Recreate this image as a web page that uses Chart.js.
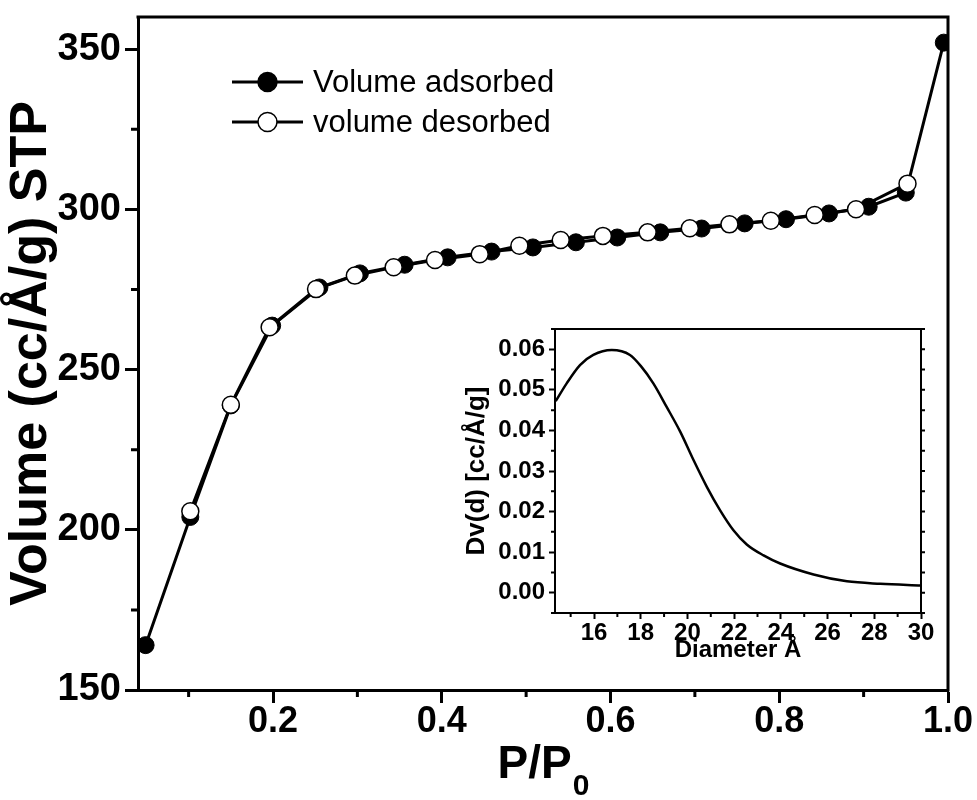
<!DOCTYPE html>
<html>
<head>
<meta charset="utf-8">
<script src="https://cdn.jsdelivr.net/npm/chart.js@4.4.1/dist/chart.umd.min.js"></script>
<style>
  html, body { margin: 0; padding: 0; background: #fff; }
  #wrap { position: relative; width: 977px; height: 800px; }
  #main { position: absolute; left: 0; top: 0; }
  #inset { position: absolute; left: 440px; top: 300px; }
</style>
</head>
<body>
<div id="wrap">
  <canvas id="main" width="977" height="800"></canvas>
  <canvas id="inset" width="520" height="380"></canvas>
</div>
<script>
// Isoterma: adsorción (círculos llenos)
const pressureAds = [0.049, 0.102, 0.150, 0.199, 0.255, 0.303, 0.356, 0.407, 0.459, 0.508,
                     0.559, 0.608, 0.659, 0.708, 0.759, 0.808, 0.859, 0.906, 0.950, 0.995];
const volumeAds = [164.0, 204.0, 238.8, 263.7, 275.6, 280.0, 282.7, 285.0, 286.8, 288.1,
                   289.7, 291.2, 292.8, 294.0, 295.6, 296.9, 298.7, 300.8, 305.2, 352.0];

// Isoterma: desorción (círculos vacíos)
const pressureDes = [0.952, 0.891, 0.842, 0.790, 0.741, 0.694, 0.644, 0.591, 0.541,
                     0.492, 0.445, 0.392, 0.343, 0.297, 0.251, 0.196, 0.150, 0.102];
const volumeDes = [308.0, 300.0, 298.2, 296.4, 295.3, 294.1, 292.8, 291.7, 290.4,
                   288.6, 286.0, 284.2, 281.9, 279.3, 275.1, 263.2, 239.0, 205.8];

// Distribución de poros (inserto)
const diameter = [14.36, 14.83, 15.40, 15.97, 16.76, 17.54, 18.00, 18.54, 19.11, 19.69, 20.26,
                  20.83, 21.40, 21.97, 22.54, 23.26, 23.97, 25.40, 26.83, 28.26, 30.00];
const dvd = [0.0472, 0.0516, 0.0561, 0.0586, 0.0598, 0.0586, 0.0559, 0.0516, 0.0458, 0.0397, 0.0327,
             0.0261, 0.0203, 0.0154, 0.0119, 0.0092, 0.0072, 0.0045, 0.0028, 0.0022, 0.0018];

// Marcas de los ejes
const pressureTicks = [0.2, 0.4, 0.6, 0.8, 1.0];
const pressureMinor = [0.1, 0.3, 0.5, 0.7, 0.9];
const volumeTicks = [150, 200, 250, 300, 350];
const volumeMinor = [175, 225, 275, 325];
const diameterTicks = [16, 18, 20, 22, 24, 26, 28, 30];
const diameterMinor = [15, 17, 19, 21, 23, 25, 27, 29];
const dvTicks = [0.00, 0.01, 0.02, 0.03, 0.04, 0.05, 0.06];
const dvMinor = [-0.005, 0.005, 0.015, 0.025, 0.035, 0.045, 0.055, 0.065];

const FONT = 'Liberation Sans, Arial, sans-serif';

const toPoints = (xs, ys) => xs.map((x, i) => ({ x: x, y: ys[i] }));

// Sin relleno extra por etiquetas: el área del gráfico queda fija
function noLabelPadding(scale) {
    scale.paddingTop = 0;
    scale.paddingBottom = 0;
    scale.paddingLeft = 0;
    scale.paddingRight = 0;
}

// Marco superior/derecho y marcas menores
const framePlugin = {
    id: 'frame',
    afterDraw(chart, args, opts) {
        const { ctx, chartArea: a, scales } = chart;
        ctx.save();
        ctx.strokeStyle = '#000';
        ctx.lineCap = 'square';
        ctx.lineWidth = opts.width;
        ctx.beginPath();
        ctx.moveTo(a.left, a.top);
        ctx.lineTo(a.right, a.top);
        ctx.lineTo(a.right, a.bottom);
        ctx.stroke();

        ctx.lineCap = 'butt';
        ctx.lineWidth = opts.tickWidth;
        ctx.beginPath();
        (opts.minorX || []).forEach(v => {
            const px = scales.x.getPixelForValue(v);
            ctx.moveTo(px, a.bottom);
            ctx.lineTo(px, a.bottom + opts.minorLen);
        });
        (opts.minorY || []).forEach(v => {
            const py = scales.y.getPixelForValue(v);
            ctx.moveTo(a.left, py);
            ctx.lineTo(a.left - opts.minorLen, py);
        });
        (opts.rightY || []).forEach(v => {
            const py = scales.y.getPixelForValue(v);
            ctx.moveTo(a.right, py);
            ctx.lineTo(a.right + opts.minorLen, py);
        });
        ctx.stroke();
        ctx.restore();
    }
};

// Leyenda dentro del gráfico (línea-marcador-línea)
const legendPlugin = {
    id: 'innerLegend',
    afterDraw(chart, args, opts) {
        const { ctx } = chart;
        ctx.save();
        chart.data.datasets.forEach((ds, i) => {
            const y = opts.y + i * opts.gap;
            ctx.strokeStyle = '#000';
            ctx.lineWidth = 3;
            ctx.beginPath();
            ctx.moveTo(opts.x, y);
            ctx.lineTo(opts.x + opts.len, y);
            ctx.stroke();
            ctx.beginPath();
            ctx.arc(opts.x + opts.len / 2, y, opts.r, 0, Math.PI * 2);
            ctx.fillStyle = ds.pointBackgroundColor;
            ctx.fill();
            ctx.lineWidth = 1.5;
            ctx.stroke();
            ctx.fillStyle = '#000';
            ctx.font = '31px ' + FONT;
            ctx.textBaseline = 'middle';
            ctx.textAlign = 'left';
            ctx.fillText(ds.label, opts.x + opts.len + 10, y + 1);
        });
        ctx.restore();
    }
};

// Título del eje X con subíndice
const xTitlePlugin = {
    id: 'xTitle',
    afterDraw(chart) {
        const { ctx, chartArea: a } = chart;
        ctx.save();
        ctx.fillStyle = '#000';
        ctx.textBaseline = 'alphabetic';
        ctx.textAlign = 'left';
        ctx.font = 'bold 46px ' + FONT;
        const main = 'P/P';
        const w1 = ctx.measureText(main).width;
        ctx.font = 'bold 30px ' + FONT;
        const w2 = ctx.measureText('0').width;
        const x0 = (a.left + a.right) / 2 - (w1 + w2) / 2;
        ctx.font = 'bold 46px ' + FONT;
        ctx.fillText(main, x0, 778);
        ctx.font = 'bold 30px ' + FONT;
        ctx.fillText('0', x0 + w1 + 1, 795);
        ctx.restore();
    }
};

new Chart(document.getElementById('main'), {
    type: 'line',
    data: {
        datasets: [
            {
                label: 'Volume adsorbed',
                data: toPoints(pressureAds, volumeAds),
                borderColor: '#000',
                borderWidth: 3,
                pointRadius: 8.5,
                pointBackgroundColor: '#000',
                pointBorderColor: '#000',
                pointBorderWidth: 1,
                order: 2,
                clip: 0
            },
            {
                label: 'volume desorbed',
                data: toPoints(pressureDes, volumeDes),
                borderColor: '#000',
                borderWidth: 3,
                pointRadius: 8.5,
                pointBackgroundColor: '#fff',
                pointBorderColor: '#000',
                pointBorderWidth: 1.5,
                order: 1,
                clip: 0
            }
        ]
    },
    options: {
        responsive: false,
        animation: false,
        devicePixelRatio: 1,
        layout: { padding: { top: 17, right: 29, left: 0, bottom: 0 } },
        plugins: {
            legend: { display: false },
            tooltip: { enabled: false },
            frame: { width: 3, tickWidth: 3, minorLen: 7, minorX: pressureMinor, minorY: volumeMinor },
            innerLegend: { x: 232, y: 82, gap: 40, len: 71, r: 9.5 }
        },
        scales: {
            x: {
                type: 'linear',
                min: 0.04,
                max: 1.0,
                afterFit(scale) { scale.height = 110; noLabelPadding(scale); },
                afterBuildTicks(scale) { scale.ticks = pressureTicks.map(v => ({ value: v })); },
                grid: { drawOnChartArea: false, color: '#000', tickLength: 13, tickWidth: 3 },
                border: { color: '#000', width: 3 },
                ticks: {
                    color: '#000',
                    autoSkip: false,
                    maxRotation: 0,
                    padding: -3,
                    font: { family: FONT, size: 36, weight: 'bold' },
                    callback: v => v.toFixed(1)
                }
            },
            y: {
                type: 'linear',
                min: 150,
                max: 360,
                afterFit(scale) { scale.width = 138; noLabelPadding(scale); },
                afterBuildTicks(scale) { scale.ticks = volumeTicks.map(v => ({ value: v })); },
                grid: { drawOnChartArea: false, color: '#000', tickLength: 13, tickWidth: 3 },
                border: { color: '#000', width: 3 },
                ticks: {
                    color: '#000',
                    autoSkip: false,
                    padding: 4,
                    font: { family: FONT, size: 38, weight: 'bold' },
                    callback: v => String(v)
                },
                title: {
                    display: true,
                    text: 'Volume (cc/Å/g) STP',
                    color: '#000',
                    font: { family: FONT, size: 52, weight: 'bold' },
                    padding: { top: 0, bottom: 0 }
                }
            }
        }
    },
    plugins: [framePlugin, legendPlugin, xTitlePlugin]
});

// Gráfico insertado: Dv(d) frente al diámetro
new Chart(document.getElementById('inset'), {
    type: 'line',
    data: {
        datasets: [{
            label: 'Dv(d)',
            data: toPoints(diameter, dvd),
            borderColor: '#000',
            borderWidth: 2.5,
            pointRadius: 0,
            cubicInterpolationMode: 'monotone',
            clip: 0
        }]
    },
    options: {
        responsive: false,
        animation: false,
        devicePixelRatio: 1,
        layout: { padding: { top: 29, right: 39, left: 0, bottom: 0 } },
        plugins: {
            legend: { display: false },
            tooltip: { enabled: false },
            frame: { width: 2, tickWidth: 2, minorLen: 4, minorX: diameterMinor, minorY: dvMinor,
                     rightY: dvTicks.concat(dvMinor) }
        },
        scales: {
            x: {
                type: 'linear',
                min: 14.33,
                max: 30,
                afterFit(scale) { scale.height = 67; noLabelPadding(scale); },
                afterBuildTicks(scale) { scale.ticks = diameterTicks.map(v => ({ value: v })); },
                grid: { drawOnChartArea: false, color: '#000', tickLength: 6, tickWidth: 2 },
                border: { color: '#000', width: 2 },
                ticks: {
                    color: '#000',
                    autoSkip: false,
                    maxRotation: 0,
                    padding: 0,
                    font: { family: FONT, size: 24, weight: 'bold' },
                    callback: v => String(v)
                },
                title: {
                    display: true,
                    text: 'Diameter Å',
                    color: '#000',
                    font: { family: FONT, size: 24, weight: 'bold' },
                    padding: { top: 0, bottom: 15 }
                }
            },
            y: {
                type: 'linear',
                min: -0.005,
                max: 0.065,
                afterFit(scale) { scale.width = 115; noLabelPadding(scale); },
                afterBuildTicks(scale) { scale.ticks = dvTicks.map(v => ({ value: v })); },
                grid: { drawOnChartArea: false, color: '#000', tickLength: 6, tickWidth: 2 },
                border: { color: '#000', width: 2 },
                ticks: {
                    color: '#000',
                    autoSkip: false,
                    padding: 4,
                    font: { family: FONT, size: 24, weight: 'bold' },
                    callback: v => v.toFixed(2)
                },
                title: {
                    display: true,
                    text: 'Dv(d) [cc/Å/g]',
                    color: '#000',
                    font: { family: FONT, size: 26, weight: 'bold' },
                    padding: { top: 21, bottom: 0 }
                }
            }
        }
    },
    plugins: [framePlugin]
});
</script>
</body>
</html>
